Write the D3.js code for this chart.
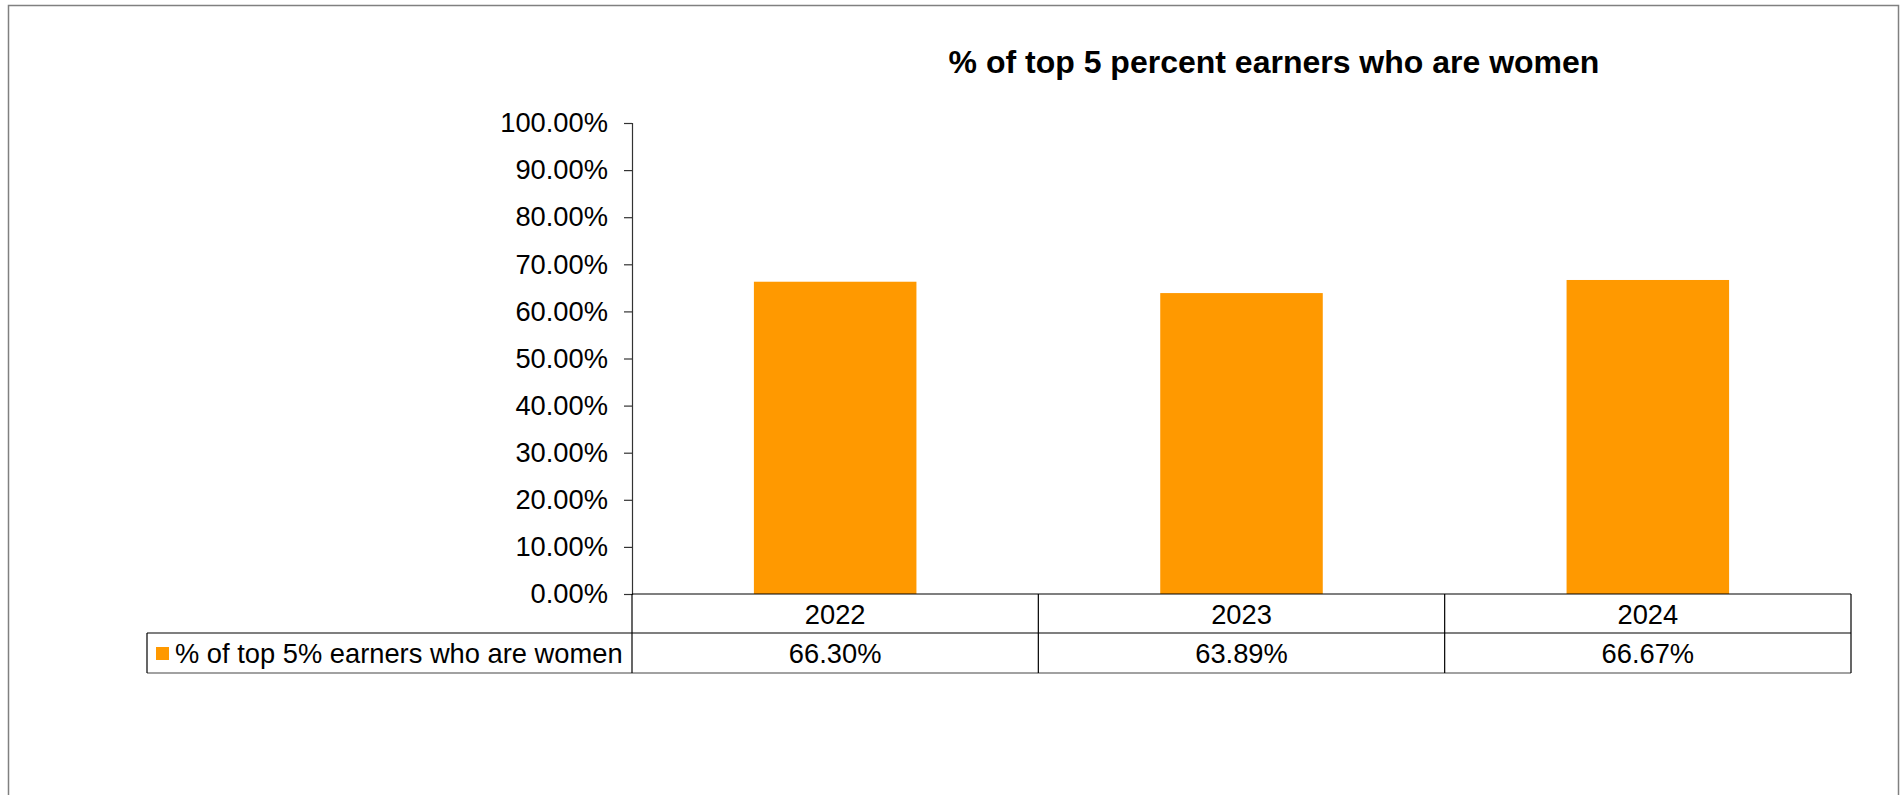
<!DOCTYPE html>
<html>
<head>
<meta charset="utf-8">
<script src="https://cdn.jsdelivr.net/npm/d3@7"></script>
<style>
  html, body { margin: 0; padding: 0; background: #fff; }
  svg { display: block; font-family: "Liberation Sans", Arial, sans-serif; }
</style>
</head>
<body>
<svg id="chart" width="1903" height="795"></svg>
<script>
const titleText = "% of top 5 percent earners who are women";
const seriesName = "% of top 5% earners who are women";
const categories = ["2022", "2023", "2024"];
const values = [0.6630, 0.6389, 0.6667];
const yTicks = [0, 0.1, 0.2, 0.3, 0.4, 0.5, 0.6, 0.7, 0.8, 0.9, 1.0];

const svg = d3.select("#chart");
const plot = { left: 632, right: 1851, top: 123, bottom: 594 };
const rowH1 = 39, rowH2 = 40;
const legendLeft = 147;
const barColor = "#FF9900";
const fs = 27.3;

// outer frame
svg.append("rect").attr("x", 8.5).attr("y", 5.5).attr("width", 1890).attr("height", 800)
  .attr("fill", "#fff").attr("stroke", "#808080").attr("stroke-width", 1.5);

// title
svg.append("text").attr("x", 1274).attr("y", 73).attr("text-anchor", "middle")
  .attr("font-size", 32).attr("font-weight", "bold").attr("fill", "#000").text(titleText);

const x = d3.scaleBand().domain(categories).range([plot.left, plot.right]).padding(0);
const y = d3.scaleLinear().domain([0, 1]).range([plot.bottom, plot.top]);

// bars
svg.append("g").selectAll("rect").data(categories).join("rect")
  .attr("x", d => x(d) + x.bandwidth() * 0.3)
  .attr("width", x.bandwidth() * 0.4)
  .attr("y", (d, i) => y(values[i]))
  .attr("height", (d, i) => y(0) - y(values[i]))
  .attr("fill", barColor);

// y axis
const yAxis = d3.axisLeft(y).tickValues(yTicks).tickFormat(d3.format(".2%")).tickSize(8).tickPadding(16);
const gy = svg.append("g").attr("transform", `translate(${plot.left},0)`).call(yAxis);
gy.select(".domain").attr("stroke", "#333").attr("stroke-width", 1.2);
gy.selectAll(".tick line").attr("stroke", "#333").attr("stroke-width", 1.2);
gy.selectAll(".tick text").attr("font-size", fs).attr("fill", "#000")
  .attr("font-family", "'Liberation Sans', Arial, sans-serif");

// data table
const t = svg.append("g").attr("fill", "none").attr("stroke", "#000").attr("stroke-width", 1.2);
const rowTop = plot.bottom, rowMid = plot.bottom + rowH1, rowBot = plot.bottom + rowH1 + rowH2;
t.append("line").attr("x1", plot.left).attr("x2", plot.right).attr("y1", rowTop).attr("y2", rowTop);
t.append("line").attr("x1", legendLeft).attr("x2", plot.right).attr("y1", rowMid).attr("y2", rowMid);
t.append("line").attr("x1", legendLeft).attr("x2", plot.right).attr("y1", rowBot).attr("y2", rowBot).attr("stroke", "#444");
t.append("line").attr("x1", legendLeft).attr("x2", legendLeft).attr("y1", rowMid).attr("y2", rowBot);
t.append("line").attr("x1", plot.left).attr("x2", plot.left).attr("y1", rowTop).attr("y2", rowBot);
categories.forEach(c => {
  const xr = x(c) + x.bandwidth();
  t.append("line").attr("x1", xr).attr("x2", xr).attr("y1", rowTop).attr("y2", rowBot);
});

// category labels
svg.append("g").selectAll("text").data(categories).join("text")
  .attr("x", d => x(d) + x.bandwidth() / 2)
  .attr("y", rowTop + rowH1 / 2 + 10)
  .attr("text-anchor", "middle").attr("font-size", fs).attr("fill", "#000")
  .text(d => d);

// value labels
const fmt = d3.format(".2%");
svg.append("g").selectAll("text").data(categories).join("text")
  .attr("x", d => x(d) + x.bandwidth() / 2)
  .attr("y", rowMid + rowH2 / 2 + 10)
  .attr("text-anchor", "middle").attr("font-size", fs).attr("fill", "#000")
  .text((d, i) => fmt(values[i]));

// legend
svg.append("rect").attr("x", 156).attr("y", 647).attr("width", 13).attr("height", 13).attr("fill", barColor);
svg.append("text").attr("x", 175).attr("y", rowMid + rowH2 / 2 + 10)
  .attr("font-size", fs).attr("fill", "#000").text(seriesName);
</script>
</body>
</html>
